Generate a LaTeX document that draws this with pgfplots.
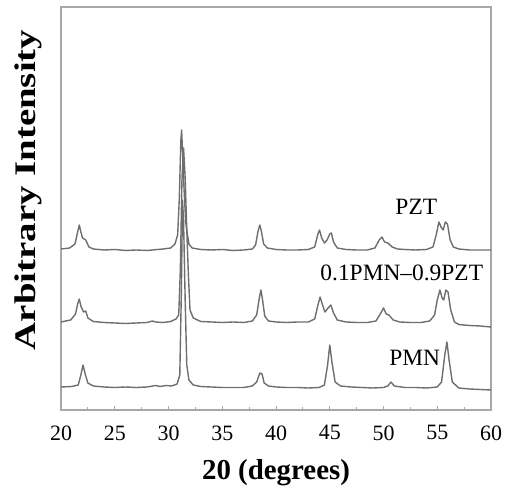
\documentclass[border=0pt]{standalone}
\usepackage{fontspec}
\setmainfont{Liberation Serif}
\usepackage{pgfplots}
\pgfplotsset{compat=1.18}
\definecolor{trace}{HTML}{6E6E6E}
\definecolor{axgray}{HTML}{A8A8A8}
\pgfplotsset{xrd/.style={draw=trace, line width=1.4bp, line join=round, mark=none}}
\begin{document}
\begin{tikzpicture}[x=1bp,y=1bp]
\useasboundingbox (0,0) rectangle (506,490);
\begin{axis}[
  at={(61bp,80bp)}, anchor=south west,
  scale only axis, width=430bp, height=403bp,
  xmin=20, xmax=60, ymin=0, ymax=403,
  xtick={20,25,...,60}, minor xtick={22.5,27.5,...,57.5},
  xticklabels={20,25,30,35,40,45,50,55,60},
  ytick=\empty,
  tick align=inside, xtick pos=bottom,
  major tick length=4bp, minor tick length=3bp,
  axis line style={draw=axgray, line width=1.6bp},
  every tick/.style={draw=axgray, line width=0.8bp},
  xticklabel style={font=\fontsize{22}{24}\selectfont, yshift=-12bp},
  xlabel={\textbf{20 (degrees)}},
  xlabel style={font=\fontsize{29}{32}\selectfont, at={(axis description cs:0.5,-0.155)}, anchor=center},
  ylabel={\scalebox{1.3}[1]{\textbf{Arbitrary Intensity}}},
  ylabel style={font=\fontsize{30}{34}\selectfont, at={(axis description cs:-0.077,0.546)}, anchor=center},
  clip=true,
]
% PZT
\addplot[xrd] coordinates {
(20.0,161) (20.8,162) (21.3,166) (21.55,178) (21.7,185) (21.85,178) (22.0,172) (22.3,170) (22.6,163) (23.0,161)
(24,160) (25,160.5) (26,159.5) (27,160) (28,159.5) (29,160.5) (29.5,161) (30.2,162) (30.6,166) (30.85,175)
(31.0,210) (31.15,270) (31.22,280) (31.3,260) (31.45,220) (31.6,188) (31.75,176) (31.9,166) (32.2,162)
(33,160.5) (34,160) (35,160.5) (36,159.5) (37,160) (37.8,161) (38.1,165) (38.35,180) (38.5,185) (38.65,178)
(38.85,166) (39.2,162) (40,160.5) (41,160) (42,160) (43,160.5) (43.6,163) (43.9,176) (44.05,180) (44.25,172)
(44.5,167) (44.75,170) (45.0,176) (45.15,177) (45.35,168) (45.7,162) (46.5,160.5) (47.5,160) (48.5,160)
(49.2,162) (49.6,170) (49.85,173) (50.1,168) (50.4,167) (50.8,163) (51.3,161) (52,160.5) (53,160) (54,160.5)
(54.6,163) (54.9,175) (55.15,188) (55.4,182) (55.55,180) (55.75,188) (55.95,186) (56.2,170) (56.5,163)
(57,161) (58,160) (59,160) (60,160)
};
% 0.1PMN-0.9PZT
\addplot[xrd] coordinates {
(20.0,88) (20.9,90) (21.35,96) (21.55,106) (21.7,111) (21.85,104) (22.1,98) (22.3,99) (22.5,92) (23,88.5)
(24,87.5) (25,87) (26,86.5) (27,87) (28,87.5) (28.5,89) (28.8,88) (29.5,87.5) (30.2,88.5) (30.7,91) (30.95,95)
(31.1,140) (31.25,230) (31.4,262) (31.55,232) (31.7,180) (31.85,135) (32.0,100) (32.3,92) (33,88.5) (34,88)
(35,87.5) (36,88) (37,87.5) (37.8,89) (38.2,95) (38.45,112) (38.6,120) (38.75,110) (38.95,94) (39.3,89)
(40,88) (41,87.5) (42,88) (43,88) (43.6,91) (43.9,105) (44.1,113) (44.3,106) (44.55,98) (44.85,102)
(45.1,105) (45.35,97) (45.7,90) (46.5,88) (47.5,87.5) (48.5,87.5) (49.3,89) (49.7,96) (50.0,102) (50.25,96)
(50.5,95) (50.9,90) (51.5,88) (52.5,87.5) (53.5,87.5) (54.3,89) (54.75,95) (55.0,110) (55.25,120) (55.45,112)
(55.6,110) (55.8,120) (56.0,118) (56.25,100) (56.6,88) (57,85.5) (58,84.5) (59,84) (60,83)
};
% PMN
\addplot[xrd] coordinates {
(20.0,23) (21,23.5) (21.6,25) (21.85,35) (22.05,45) (22.25,36) (22.5,27) (23,24) (24,23) (25,22.5) (26,23)
(27,22.5) (28,23) (28.8,24.5) (29.2,23.5) (29.8,24.5) (30.3,24) (30.8,26) (31.05,35) (31.2,120) (31.3,210)
(31.4,190) (31.55,110) (31.7,45) (31.9,30) (32.3,25) (33,23.5) (34,23) (35,22.5) (36,22.5) (37,22.5)
(37.8,24) (38.2,28) (38.5,37) (38.7,36) (38.9,27) (39.3,24) (40,23) (41,22.5) (42,22.5) (43,22) (44,22.5)
(44.5,25) (44.8,45) (45.0,65) (45.2,48) (45.5,28) (46,24) (47,23) (48,22.5) (49,22) (50,22.5) (50.4,24)
(50.7,28) (51.0,24) (52,22.5) (53,22.5) (54,22) (55,23) (55.4,28) (55.7,55) (55.9,68) (56.1,50) (56.4,28)
(57,22) (58,21) (59,20.5) (60,20)
};
\node[font=\fontsize{23.5}{26}\selectfont] at (axis cs:53.05,203) {PZT};
\node[font=\fontsize{23.5}{26}\selectfont] at (axis cs:51.7,137) {0.1PMN–0.9PZT};
\node[font=\fontsize{23.5}{26}\selectfont] at (axis cs:52.9,52) {PMN};
\end{axis}
\end{tikzpicture}
\end{document}
